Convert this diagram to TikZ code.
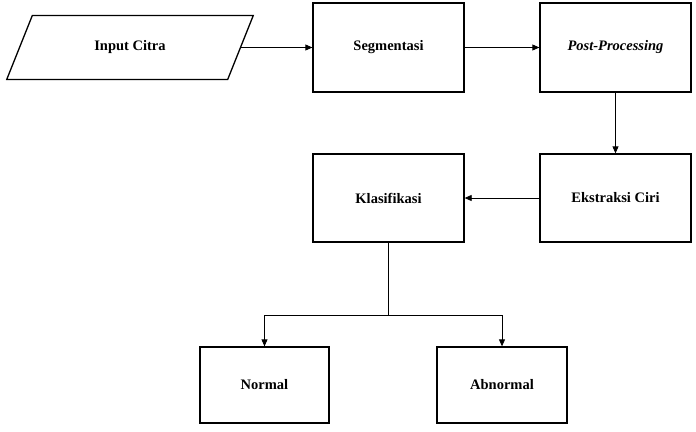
\documentclass[tikz,border=0pt]{standalone}
\usepackage{fontspec}
\setmainfont{Liberation Serif}
\usetikzlibrary{shapes.geometric,arrows.meta}
\begin{document}
\begin{tikzpicture}[x=1pt, y=-1pt,
    box/.style={draw, line width=1.3pt, font=\fontsize{14.5}{17}\selectfont\bfseries},
    arr/.style={-{Triangle[length=7pt,width=6pt]}, line width=0.8pt}]
    \useasboundingbox (0,0) rectangle (696,431);
    \node[box, trapezium, trapezium left angle=62.7, trapezium right angle=117.3,
          trapezium stretches=true, minimum width=248pt, minimum height=64pt] (A) at (130,47.5) {Input Citra};
    \node[box, minimum width=151pt, minimum height=89pt] (B) at (388.5,47.5) {Segmentasi};
    \node[box, minimum width=151pt, minimum height=89pt] (C) at (615.5,47.5) {\itshape Post-Processing};
    \node[box, minimum width=151pt, minimum height=88pt] (D) at (615.5,198) {Ekstraksi Ciri};
    \node[box, minimum width=151pt, minimum height=88pt] (E) at (388.5,198) {Klasifikasi};
    \node[box, minimum width=129pt, minimum height=76pt] (F) at (264.5,385) {Normal};
    \node[box, minimum width=130pt, minimum height=76pt] (G) at (502,385) {Abnormal};
    \draw[arr] (A.east) -- (B.west);
    \draw[arr] (B) -- (C);
    \draw[arr] (C) -- (D);
    \draw[arr] (D) -- (E);
    \coordinate (S) at (388.5,315);
    \draw[line width=0.8pt] (E.south) -- (S);
    \draw[arr] (S) -| (F.north);
    \draw[arr] (S) -| (G.north);
\end{tikzpicture}
\end{document}
